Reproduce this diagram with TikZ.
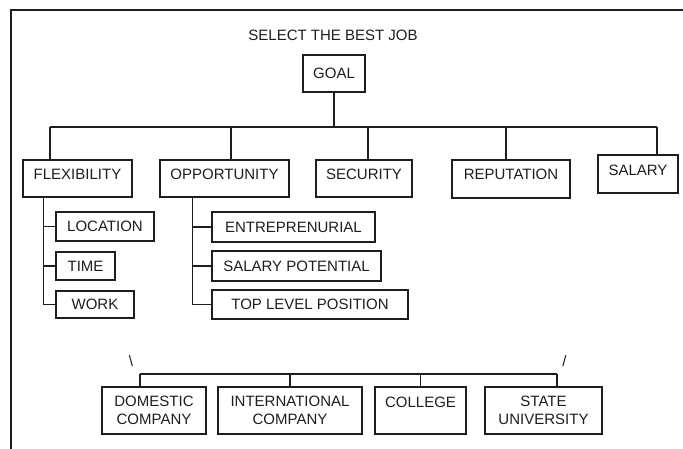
\documentclass[tikz,border=0pt]{standalone}
\usepackage{fontspec}
\setmainfont{Liberation Sans}
\usetikzlibrary{calc}
\definecolor{ink}{HTML}{1E1E1E}
\begin{document}
\begin{tikzpicture}[x=1pt,y=-1pt,
  every node/.style={text=ink,font=\fontsize{15}{18}\selectfont},
  conn/.style={draw=ink,line width=1.5pt},
  box/.style 2 args={draw=ink,line width=1.5pt,rectangle,inner sep=0pt,
    minimum width=#1,minimum height=#2,text height=10.7pt,text depth=0pt,align=center},
  toprow/.style={text depth=8.9pt},
  twoline/.style={text height=28.7pt,text depth=0pt}]
\useasboundingbox (0,0) rectangle (683,448);
\fill[white] (0,0) rectangle (683,448);
\draw[draw=ink,line width=2pt] (11,460) -- (11,10) -- (700,10);

\node (title) at (333,35) {SELECT THE BEST JOB};
\node[box={62}{37}] (goal) at (334,73.5) {GOAL};

\node[box={109}{37},toprow] (flex) at (77.5,178.5) {FLEXIBILITY};
\node[box={129}{37},toprow] (opp) at (224.5,178.5) {OPPORTUNITY};
\node[box={96}{37},toprow] (sec) at (364,178.5) {SECURITY};
\node[box={118}{38},toprow] (rep) at (511,179) {REPUTATION};
\node[box={80}{38},text depth=7pt] (sal) at (638,174) {SALARY};

\node[box={98}{29}] (loc) at (105,226.5) {LOCATION};
\node[box={59}{28}] (time) at (85.5,266) {TIME};
\node[box={78}{27}] (work) at (95,304.5) {WORK};

\node[box={163}{30}] (ent) at (293.5,227) {ENTREPRENURIAL};
\node[box={169}{30}] (salpot) at (296.5,266) {SALARY POTENTIAL};
\node[box={196}{29}] (toplev) at (310,304.5) {TOP LEVEL POSITION};

\node[box={104}{47},twoline] (dom) at (154,410.5) {DOMESTIC\\COMPANY};
\node[box={144}{47},twoline] (intl) at (290,410.5) {INTERNATIONAL\\COMPANY};
\node[box={91}{47},text depth=17pt] (col) at (420.5,410.5) {COLLEGE};
\node[box={117}{47},twoline] (state) at (543.5,410.5) {STATE\\UNIVERSITY};

\node (bsl) at (131,361) {\textbackslash};
\node (fsl) at (564.5,361) {/};

% top level tree
\coordinate (b1) at (50,127);
\coordinate (b2) at (231,127);
\coordinate (b3) at (368,127);
\coordinate (b4) at (506,127);
\coordinate (b5) at (657,127);
\draw[conn] (goal.south) -- (goal.south |- b1);
\draw[conn] (b1) -- (b5);
\draw[conn] (b1) -- (b1 |- flex.north);
\draw[conn] (b2) -- (b2 |- opp.north);
\draw[conn] (b3) -- (b3 |- sec.north);
\draw[conn] (b4) -- (b4 |- rep.north);
\draw[conn] (b5) -- (b5 |- sal.north);

% flexibility branch
\coordinate (ft) at ($(flex.south west)+(21,0)$);
\draw[conn] (ft) |- (work.west);
\draw[conn] (ft |- loc.west) -- (loc.west);
\draw[conn] (ft |- time.west) -- (time.west);

% opportunity branch
\coordinate (ot) at ($(opp.south west)+(33,0)$);
\draw[conn] (ot) |- (toplev.west);
\draw[conn] (ot |- ent.west) -- (ent.west);
\draw[conn] (ot |- salpot.west) -- (salpot.west);

% bottom tree
\coordinate (cl) at (140,374);
\coordinate (cr) at (557,374);
\draw[conn] (cl) -- (cr);
\draw[conn] (cl) -- (cl |- dom.north);
\draw[conn] (intl.north) -- (intl.north |- cl);
\draw[conn] (col.north) -- (col.north |- cl);
\draw[conn] (cr) -- (cr |- state.north);
\end{tikzpicture}
\end{document}
